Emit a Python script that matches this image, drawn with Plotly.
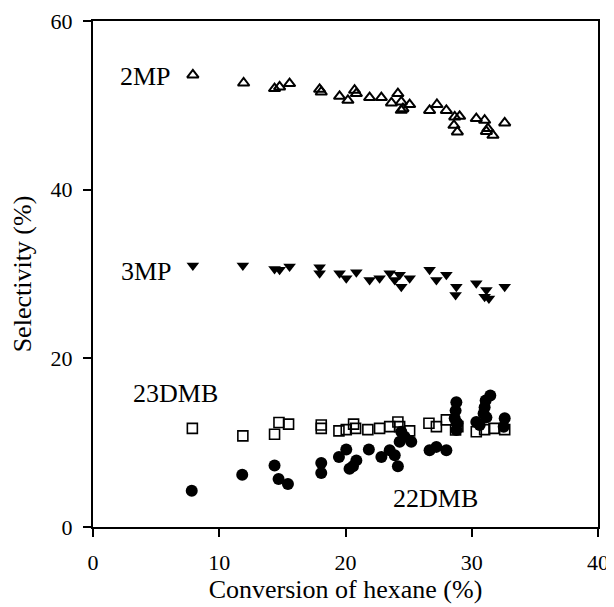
import plotly.graph_objects as go

# Conversion of hexane (%) and selectivity (%) per product
x_2mp = [7.91, 11.93, 14.38, 14.78, 15.57, 17.95, 18.08, 19.53, 20.19, 20.72, 20.86, 21.91, 22.84,
         23.64, 24.15, 24.42, 24.55, 24.42, 25.08, 26.66, 27.24, 27.99, 28.65, 29.04, 28.59, 28.86,
         30.36, 31.02, 31.28, 31.16, 31.68, 32.61]
y_2mp = [53.6, 52.65, 51.99, 52.18, 52.58, 51.9, 51.58, 51.07, 50.6, 51.79, 51.39, 50.92, 50.92,
         50.28, 51.39, 50.4, 49.6, 49.41, 50.09, 49.4, 50.1, 49.4, 48.62, 48.7, 47.63, 46.84,
         48.43, 48.23, 47.24, 46.9, 46.45, 47.91]

x_3mp = [7.91, 11.87, 14.38, 14.78, 15.57, 17.95, 17.95, 19.53, 20.06, 20.86, 21.91, 22.7, 23.5,
         23.9, 24.29, 24.42, 25.08, 26.66, 27.2, 27.99, 28.78, 28.72, 30.36, 31.16, 31.36, 31.02,
         32.61]
y_3mp = [31.0, 31.0, 30.6, 30.5, 30.9, 30.8, 30.1, 30.1, 29.5, 30.2, 29.3, 29.5, 30.1,
         29.3, 29.9, 28.5, 29.5, 30.5, 29.3, 29.9, 28.5, 27.5, 28.9, 28.1, 27.1, 27.3,
         28.5]

x_23dmb = [7.87, 11.87, 14.38, 14.73, 15.49, 18.08, 18.08, 19.48, 20.06, 20.64, 20.8, 21.77, 22.7,
           23.5, 24.15, 24.29, 25.08, 26.61, 27.2, 27.99, 28.72, 28.9, 30.36, 31.02, 31.76, 32.61]
y_23dmb = [11.7, 10.8, 11.0, 12.4, 12.2, 12.1, 11.7, 11.4, 11.55, 12.2, 11.7, 11.55, 11.7,
           11.9, 12.45, 11.9, 11.4, 12.3, 11.9, 12.7, 11.5, 11.9, 11.3, 11.55, 11.7, 11.55]

x_22dmb = [7.82, 11.82, 14.38, 14.7, 15.44, 18.08, 18.08, 19.48, 20.06, 20.32, 20.59, 20.86, 21.85,
           22.84, 23.5, 23.9, 24.15, 24.29, 24.42, 24.68, 25.21, 26.66, 27.2, 27.99, 28.78, 28.72,
           28.65, 28.86, 28.78, 30.36, 30.63, 31.02, 30.94, 31.16, 31.47, 31.1, 32.61, 32.53]
y_22dmb = [4.3, 6.2, 7.3, 5.7, 5.1, 7.6, 6.4, 8.3, 9.2, 6.9, 7.2, 7.9, 9.2,
           8.3, 9.1, 8.5, 7.2, 10.1, 11.3, 10.7, 10.1, 9.1, 9.5, 9.1, 14.8, 13.8,
           12.9, 12.3, 11.5, 12.45, 12.1, 14.2, 13.45, 13.0, 15.6, 15.0, 12.9, 11.9]

labels = ["2MP", "3MP", "23DMB", "22DMB"]
label_x = [4.16, 4.24, 6.54, 27.1]
label_y = [53.4, 30.3, 15.8, 3.4]

x_ticks = [0, 10, 20, 30, 40]
y_ticks = [0, 20, 40, 60]

FONT = "Liberation Serif, Times New Roman, serif"

fig = go.Figure()
fig.add_trace(go.Scatter(x=x_2mp, y=y_2mp, mode="markers", name="2MP",
                         marker=dict(symbol="triangle-up-open", size=10, color="black",
                                     line=dict(width=2, color="black"))))
fig.add_trace(go.Scatter(x=x_3mp, y=y_3mp, mode="markers", name="3MP",
                         marker=dict(symbol="triangle-down", size=11, color="black")))
fig.add_trace(go.Scatter(x=x_23dmb, y=y_23dmb, mode="markers", name="23DMB",
                         marker=dict(symbol="square-open", size=10, color="black",
                                     line=dict(width=1.6, color="black"))))
fig.add_trace(go.Scatter(x=x_22dmb, y=y_22dmb, mode="markers", name="22DMB",
                         marker=dict(symbol="circle", size=12, color="black")))

for t, ax_, ay_ in zip(labels, label_x, label_y):
    fig.add_annotation(x=ax_, y=ay_, text=t, showarrow=False,
                       font=dict(family=FONT, size=26, color="black"))

# the page body adds an 8 px margin, so the figure is 8 px smaller on each side
fig.update_layout(
    width=606, height=599,
    margin=dict(l=85, r=16, t=13, b=80),
    paper_bgcolor="white", plot_bgcolor="white",
    showlegend=False,
    font=dict(family=FONT, color="black"),
)
fig.update_xaxes(range=[0, 40], tickvals=x_ticks, showgrid=False, zeroline=False,
                 showline=True, linecolor="black", linewidth=2, mirror=True,
                 ticks="outside", ticklen=8, tickwidth=2, tickcolor="black",
                 tickfont=dict(family=FONT, size=22), ticklabelstandoff=7,
                 automargin=False,
                 title=dict(text="Conversion of hexane (%)", font=dict(family=FONT, size=26),
                            standoff=4))
fig.update_yaxes(range=[0, 60], tickvals=y_ticks, showgrid=False, zeroline=False,
                 showline=True, linecolor="black", linewidth=2, mirror=True,
                 ticks="outside", ticklen=8, tickwidth=2, tickcolor="black",
                 tickfont=dict(family=FONT, size=22), ticklabelstandoff=6,
                 automargin=False,
                 title=dict(text="Selectivity (%)", font=dict(family=FONT, size=26),
                            standoff=11))

fig.write_html("out.html")
